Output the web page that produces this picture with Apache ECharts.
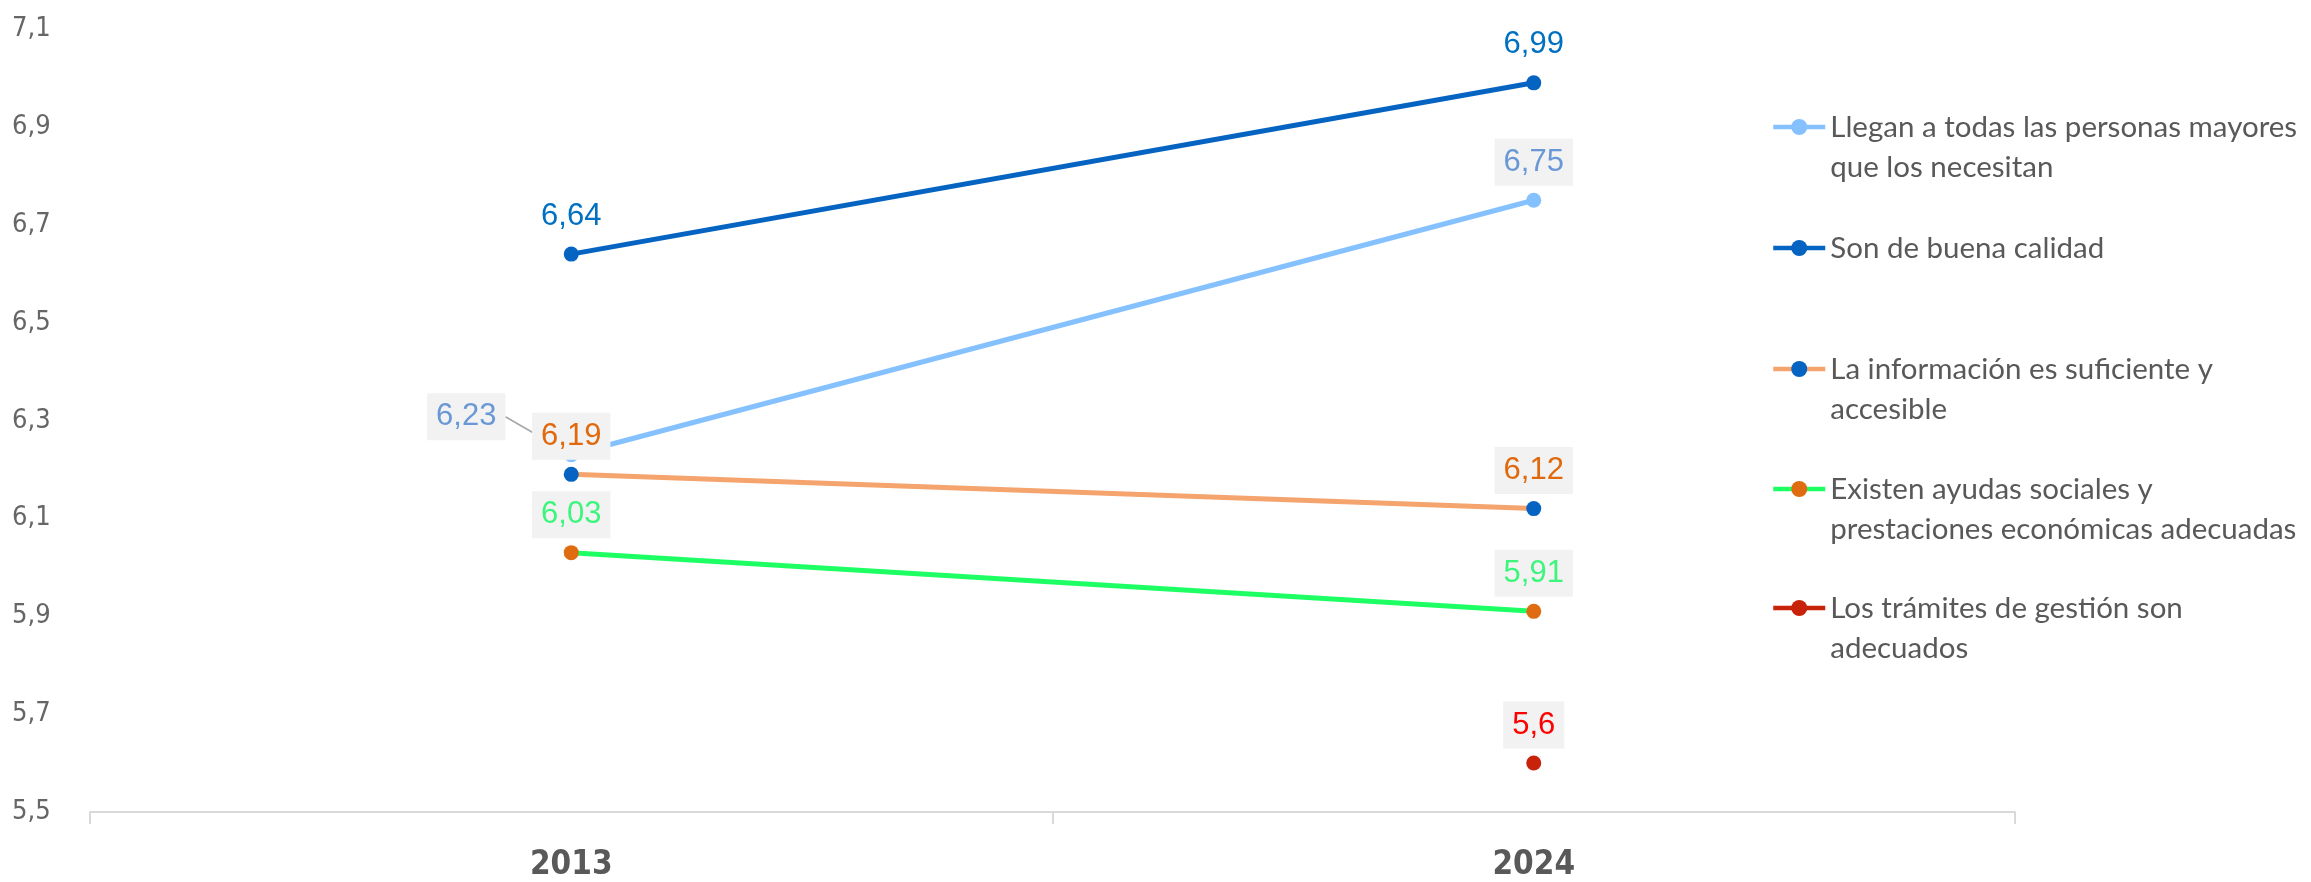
<!DOCTYPE html>
<html>
<head>
<meta charset="utf-8">
<script src="https://cdn.jsdelivr.net/npm/echarts@6/dist/echarts.min.js"></script>
<style>
html,body{margin:0;padding:0;background:#fff;}
#chart{width:2311px;height:882px;}
</style>
</head>
<body>
<div id="chart"></div>
<script>
// ---- data ----
const categories = ['2013', '2024'];
const yTicks = [5.5, 5.7, 5.9, 6.1, 6.3, 6.5, 6.7, 6.9, 7.1];
const seriesNames = [
  'Llegan a todas las personas mayores que los necesitan',
  'Son de buena calidad',
  'La información es suficiente y accesible',
  'Existen ayudas sociales y prestaciones económicas adecuadas',
  'Los trámites de gestión son adecuados'
];
const legendLines = [
  ['Llegan a todas las personas mayores', 'que los necesitan'],
  ['Son de buena calidad'],
  ['La información es suficiente y', 'accesible'],
  ['Existen ayudas sociales y', 'prestaciones económicas adecuadas'],
  ['Los trámites de gestión son', 'adecuados']
];
const llegan = [6.23, 6.75];
const calidad = [6.64, 6.99];
const informacion = [6.19, 6.12];
const ayudas = [6.03, 5.91];
const tramites = [null, 5.6];

// ---- styles ----
const lineColors = ['#85C1FF', '#0563C1', '#F4A46C', '#1EFF64', '#C8230A'];
const markerColors = ['#85C1FF', '#0563C1', '#0563C1', '#E06C12', '#C8230A'];
const labelColors = ['#6A98D6', '#0070C0', '#E0690E', '#3DF57C', '#FF0000'];
const labelBg = ['#F2F2F2', 'transparent', '#F2F2F2', '#F2F2F2', '#F2F2F2'];
const valueSets = [llegan, calidad, informacion, ayudas, tramites];

const fmt = v => String(v).replace('.', ',');

const series = seriesNames.map((name, i) => ({
  name: name,
  type: 'line',
  data: valueSets[i].map((v, j) => {
    if (v === null) return '-';
    if (i === 0 && j === 0) return { value: v, labelLine: { show: true } };
    return v;
  }),
  symbol: 'circle',
  symbolSize: 15,
  showSymbol: true,
  showAllSymbol: true,
  connectNulls: false,
  z: 2 + i,
  lineStyle: { color: lineColors[i], width: 5 },
  itemStyle: { color: markerColors[i] },
  emphasis: { disabled: true },
  label: {
    show: true,
    position: 'top',
    distance: 7,
    formatter: p => fmt(p.value),
    color: labelColors[i],
    fontFamily: '"Liberation Sans", Arial, sans-serif',
    fontSize: 31,
    backgroundColor: labelBg[i],
    padding: [8, 9, 8, 9]
  },
  labelLine: { show: false, lineStyle: { color: '#A6A6A6', width: 1.5 } },
  labelLayout: i === 0 ? function (p) { return p.dataIndex === 0 ? { dx: -105, dy: 0 } : {}; } : undefined
}));

const legendCenters = [127, 248, 369, 489, 608];
const LH = 40;
const legends = seriesNames.map((name, i) => {
  const lines = legendLines[i];
  const twoLine = lines.length > 1;
  const text = twoLine ? ' \n' + lines.join('\n') : lines[0];
  const h = twoLine ? 3 * LH : LH;
  return {
    data: [name],
    orient: 'vertical',
    left: 1771,
    top: legendCenters[i] - h / 2,
    padding: 0,
    itemWidth: 52,
    itemHeight: 20,
    selectedMode: false,
    lineStyle: { width: 4.5 },
    formatter: () => text,
    textStyle: {
      color: '#595959',
      fontFamily: 'Lato, "Noto Sans", sans-serif',
      fontSize: 29.5,
      lineHeight: LH
    }
  };
});

const chart = echarts.init(document.getElementById('chart'), null, { renderer: 'canvas' });
chart.setOption({
  animation: false,
  backgroundColor: '#ffffff',
  grid: { left: 90, right: 296, top: 29, bottom: 67, containLabel: false },
  legend: legends,
  xAxis: {
    type: 'category',
    data: categories,
    boundaryGap: true,
    axisLine: { show: true, lineStyle: { color: '#D9D9D9', width: 2 } },
    axisTick: { show: true, length: 12, lineStyle: { color: '#D9D9D9', width: 2 } },
    axisLabel: {
      color: '#595959',
      fontFamily: '"Liberation Sans Narrow", "DejaVu Sans Condensed", Arial, sans-serif',
      fontWeight: 'bold',
      fontSize: 33,
      margin: 37
    },
    splitLine: { show: false }
  },
  yAxis: {
    type: 'value',
    min: 5.5,
    max: 7.1,
    axisLine: { show: false },
    axisTick: { show: false },
    splitLine: { show: false },
    axisLabel: {
      customValues: yTicks,
      formatter: v => fmt(Math.round(v * 10) / 10),
      color: '#666666',
      fontFamily: '"Liberation Sans Narrow", "DejaVu Sans Condensed", Arial, sans-serif',
      fontSize: 27,
      align: 'left',
      margin: 78
    }
  },
  series: series
});
</script>
</body>
</html>
